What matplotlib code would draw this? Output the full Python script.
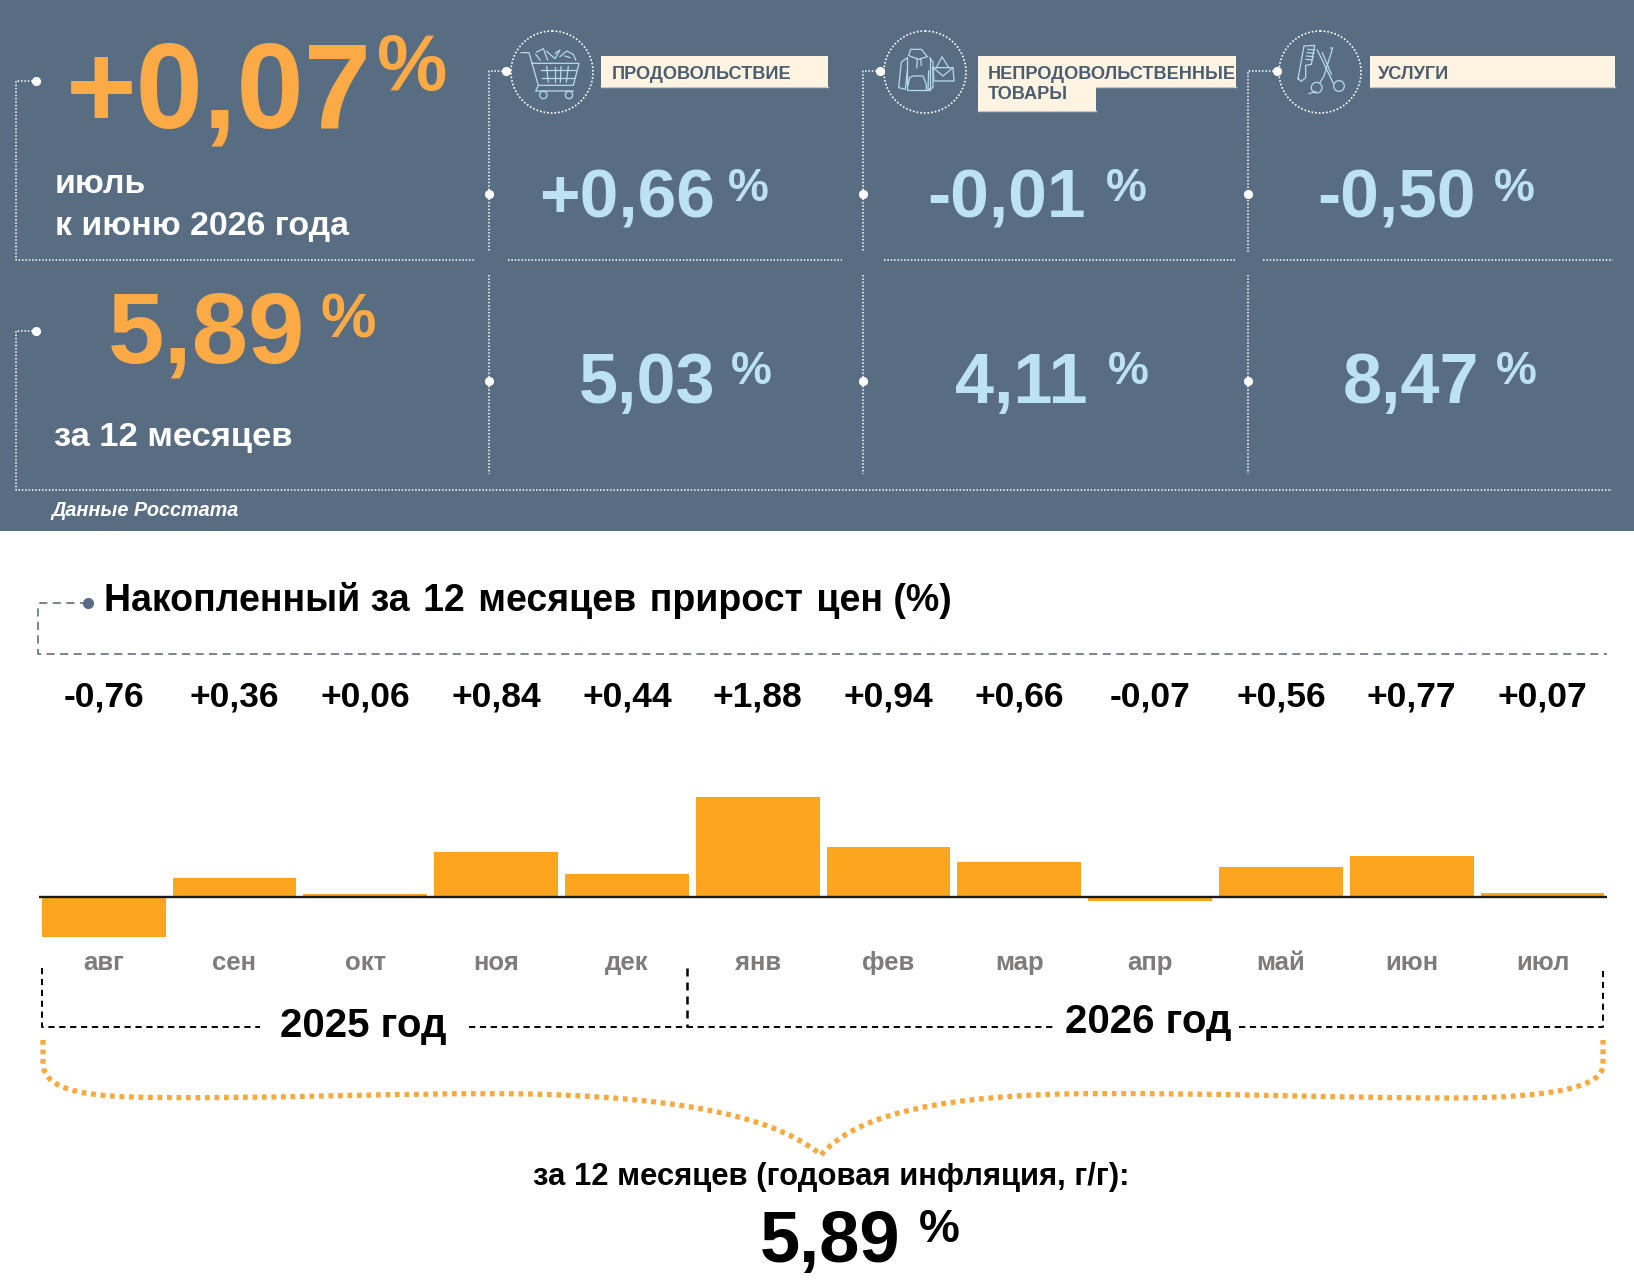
import matplotlib
matplotlib.use('Agg')
import matplotlib.pyplot as plt
from matplotlib.patches import Rectangle, Circle, PathPatch
from matplotlib.path import Path

plt.rcParams['font.family'] = ['Liberation Sans', 'DejaVu Sans']

W, H = 1634, 1282

# chart data
months = ['авг', 'сен', 'окт', 'ноя', 'дек', 'янв', 'фев', 'мар', 'апр', 'май', 'июн', 'июл']
monthly = [-0.76, 0.36, 0.06, 0.84, 0.44, 1.88, 0.94, 0.66, -0.07, 0.56, 0.77, 0.07]
monthly_labels = ['-0,76', '+0,36', '+0,06', '+0,84', '+0,44', '+1,88',
                  '+0,94', '+0,66', '-0,07', '+0,56', '+0,77', '+0,07']

# header figures
month_total = '+0,07'
year_total = '5,89'
category_names = ['ПРОДОВОЛЬСТВИЕ', 'НЕПРОДОВОЛЬСТВЕННЫЕ\nТОВАРЫ', 'УСЛУГИ']
category_month = ['+0,66', '-0,01', '-0,50']
category_year = ['5,03', '4,11', '8,47']

SLATE = '#586C82'
ORANGE = '#FCAA45'
BAR = '#FDA51E'
BLUE = '#BDE3F3'
CREAM = '#FFF3E2'
ICON = '#B4DCEC'
GREY = '#7E7B7B'
DOTS = (0, (1, 1.2))

fig = plt.figure(figsize=(W / 100, H / 100), dpi=100)

# bars live in their own axes: 130.8 px per month, 53.2 px per percentage point, zero at y=897
ax_bar = fig.add_axes([0, 0, 1, 1], zorder=2)
ax_bar.set_xlim(-103.7 / 130.8, (W - 103.7) / 130.8)
ax_bar.set_ylim(-(H - 897) / 53.2, 897 / 53.2)
ax_bar.axis('off')
ax_bar.patch.set_alpha(0)

ax_bar.bar(range(len(monthly)), monthly, width=0.945, color=BAR, linewidth=0)
ax_bar.hlines(0, -0.495, 11.49, color='#1a1a1a', lw=1.7, zorder=3)
for i, (m, lab) in enumerate(zip(months, monthly_labels)):
    ax_bar.annotate(lab, (i, 0), xytext=(0, 191 * 0.72), textcoords='offset points',
                    ha='center', va='baseline', fontsize=25.5, fontweight='bold', color='black')
    ax_bar.annotate(m, (i, 0), xytext=(0, -73 * 0.72), textcoords='offset points',
                    ha='center', va='baseline', fontsize=18.5, fontweight='bold', color=GREY)

# everything else is placed in pixel coordinates
ax = fig.add_axes([0, 0, 1, 1], zorder=1)
ax.set_xlim(0, W)
ax.set_ylim(H, 0)
ax.axis('off')

ax.add_patch(Rectangle((0, 0), W, 531, color=SLATE, lw=0))


def txt(x, y, s, size, color, **kw):
    kw.setdefault('fontweight', 'bold')
    ax.text(x, y, s, fontsize=size, color=color, ha=kw.pop('ha', 'left'), va='baseline', **kw)


def dotted(xs, ys):
    ax.plot(xs, ys, color='white', lw=1.1, ls=DOTS, solid_capstyle='butt')


def knob(x, y):
    ax.plot([x], [y], 'o', color='white', ms=6.6, mew=0)


# frame of the header panel
dotted([36, 16, 16, 474], [81, 81, 260, 260])
knob(36, 81)
dotted([36, 16, 16, 1612], [331, 331, 490, 490])
knob(36, 331)
dotted([508, 842], [260, 260])
dotted([884, 1235], [260, 260])
dotted([1263, 1613], [260, 260])

col_x = [489, 863, 1248]
top_knob_x = [506, 880, 1277]
for x, kx in zip(col_x, top_knob_x):
    dotted([kx, x, x], [71, 71, 252])
    dotted([x, x], [275, 474])
    knob(kx, 71)
    knob(x, 194)
    knob(x, 381)

# main figures
txt(66, 127, month_total, 87, ORANGE)
txt(377, 90, '%', 57, ORANGE)
txt(55, 193, 'июль', 24.4, 'white')
txt(55, 235, 'к июню 2026 года', 24.4, 'white')
txt(108, 362, year_total, 73, ORANGE)
txt(321, 338, '%', 45, ORANGE)
txt(54, 446, 'за 12 месяцев', 24.8, 'white')
txt(51, 516, 'Данные Росстата', 14.3, 'white', fontstyle='italic')

month_x = [539, 927, 1317]
month_pct_x = [728, 1106, 1494]
year_x = [579, 955, 1343]
year_pct_x = [731, 1108, 1496]
for i in range(3):
    txt(month_x[i], 218, category_month[i], 50, BLUE)
    txt(month_pct_x[i], 201, '%', 33, BLUE)
    txt(year_x[i], 403, category_year[i], 50.5, BLUE)
    txt(year_pct_x[i], 384, '%', 33, BLUE)

# category labels
for x0, x1, y1 in [(601, 828, 87), (978, 1236, 87), (978, 1096, 111), (1370, 1615, 87)]:
    ax.plot([x0, x1], [y1, y1], color='#C9C6C0', lw=1, zorder=1)
    ax.add_patch(Rectangle((x0, 56), x1 - x0, y1 - 56, facecolor=CREAM, edgecolor='none', zorder=1))
label_x = [612, 988, 1378]
txt(label_x[0], 79, category_names[0], 13.1, '#4A5D71')
first, second = category_names[1].split('\n')
txt(label_x[1], 79, first, 13.1, '#4A5D71')
txt(label_x[1], 99, second, 13.1, '#4A5D71')
txt(label_x[2], 79, category_names[2], 13.1, '#4A5D71')


# icons, drawn from zoomed sketches (local units are 1/3 px)
def icon(ox, oy, lines, rings=()):
    for pts in lines:
        ax.plot([ox + p[0] / 3 for p in pts], [oy + p[1] / 3 for p in pts],
                color=ICON, lw=0.9, solid_joinstyle='round')
    for cx, cy, r in rings:
        ax.add_patch(Circle((ox + cx / 3, oy + cy / 3), r / 3, fill=False, ec=ICON, lw=0.9))


for cx in [552, 925, 1320]:
    ax.add_patch(Circle((cx, 72), 41, fill=False, ec='white', lw=1.2, ls=DOTS))

icon(505, 26, [
    [(48, 80), (72, 80), (100, 178), (205, 178), (222, 112), (82, 112)],
    [(100, 178), (92, 195), (205, 195)],
    [(108, 132), (212, 132)], [(112, 155), (206, 155)],
    [(125, 122), (130, 168)], [(150, 122), (150, 168)], [(168, 122), (166, 168)], [(190, 122), (184, 168)],
    [(95, 78), (115, 68), (128, 102)], [(92, 85), (105, 102)],
    [(125, 76), (150, 98), (165, 72), (150, 82)],
    [(165, 92), (185, 75), (205, 85), (212, 102)], [(180, 90), (195, 95)],
], rings=[(115, 207, 11), (192, 207, 11)])

icon(878, 26, [
    [(88, 95), (70, 108), (62, 185), (82, 190), (88, 135)],
    [(155, 95), (165, 108), (165, 185), (150, 190), (152, 135)],
    [(88, 95), (88, 192), (155, 192), (155, 95)],
    [(92, 88), (98, 70), (130, 70), (148, 92), (122, 100), (95, 90)],
    [(118, 100), (116, 125)], [(128, 98), (130, 118)],
    [(95, 155), (105, 150), (135, 150), (145, 175), (145, 192)], [(95, 155), (90, 178)],
    [(165, 125), (225, 125), (228, 165), (168, 165), (165, 125)],
    [(165, 125), (195, 150), (225, 125)],
    [(175, 125), (192, 92), (212, 125)],
])

icon(1274, 26, [
    [(72, 158), (90, 60), (122, 58), (112, 115), (95, 118), (95, 155), (82, 166), (72, 158)],
    [(102, 70), (122, 72)], [(100, 80), (120, 82)], [(98, 90), (118, 92)], [(96, 100), (116, 102)],
    [(130, 72), (178, 172)], [(145, 80), (172, 145)],
    [(170, 66), (176, 66), (150, 150), (138, 170)],
    [(105, 203), (125, 196)],
], rings=[(128, 185, 16), (195, 180, 16)])

# lower part: title and brackets
ax.plot([88, 40, 38, 38, 1607], [603, 603, 605, 654, 654], color='#6F7A86', lw=1.3, ls=(0, (4.5, 3)))
ax.plot([88], [603], 'o', color=SLATE, ms=8, mew=0)
txt(104, 611, 'Накопленный за\u200a 12\u200a месяцев\u200a прирост\u200a цен (%)', 27, 'black')

dash = (0, (3.2, 2.4))
ax.plot([42, 42, 260], [968, 1027, 1027], color='black', lw=1.4, ls=dash)
ax.plot([469, 1055], [1027, 1027], color='black', lw=1.4, ls=dash)
ax.plot([1239, 1603, 1603], [1027, 1027, 968], color='black', lw=1.4, ls=dash)
ax.plot([687, 687], [968, 1027], color='black', lw=1.8, ls=dash)
txt(280, 1037, '2025 год', 29, 'black')
txt(1065, 1033, '2026 год', 29, 'black')

# orange brace
verts = [(43, 1040), (43, 1065),
         (45, 1085), (70, 1095), (130, 1097),
         (260, 1100), (400, 1092), (530, 1094),
         (660, 1097), (770, 1112), (821, 1155),
         (853, 1118), (925, 1098), (1060, 1094),
         (1200, 1092), (1330, 1098), (1450, 1098),
         (1560, 1098), (1603, 1085), (1603, 1065),
         (1603, 1040)]
codes = [Path.MOVETO, Path.LINETO] + [Path.CURVE4] * 18 + [Path.LINETO]
ax.add_patch(PathPatch(Path(verts, codes), fill=False, ec='#F8A93F', lw=3.8, ls=(0, (0.9, 0.9))))

txt(533, 1185, 'за 12 месяцев (годовая инфляция, г/г):', 22.3, 'black')
txt(760, 1262, year_total, 52, 'black')
txt(919, 1242, '%', 33, 'black')

fig.savefig('out.png', dpi=100, facecolor='white')
